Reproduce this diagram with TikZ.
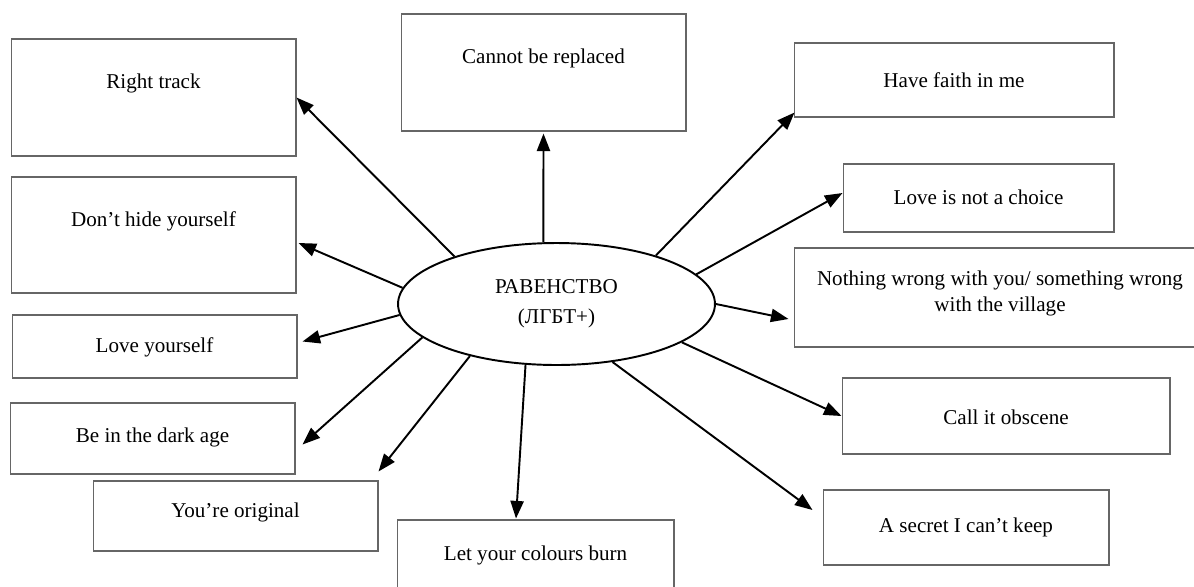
\documentclass[tikz,border=0pt]{standalone}
\usepackage{fontspec}
\setmainfont{Liberation Serif}
\usetikzlibrary{arrows.meta,calc,shapes.geometric}
\definecolor{boxgray}{HTML}{666666}

\begin{document}
\begin{tikzpicture}[x=0.02cm,y=-0.02cm,>={Triangle[length=10pt,width=7.5pt]},
  idea/.style={draw=boxgray,line width=0.6pt,inner sep=0pt},
  lab/.style={font=\fontsize{12}{14.5}\selectfont,align=center,inner sep=1pt},
  hub/.style={ellipse,draw=black,line width=1.1pt,minimum width=6.34cm,minimum height=2.44cm,
              inner sep=0pt,align=center,font=\fontsize{12}{17}\selectfont},
  spoke/.style={->,line width=1.1pt}]

\clip (0,0) rectangle (1194,586);

% ===== centre =====
\node[hub] (eq) at (556.5,304) {РАВЕНСТВО\\(ЛГБТ+)};

% ===== left side =====
\node[idea,minimum width=5.7cm,minimum height=2.34cm] (rt) at (153.5,97.5) {};
\node[lab] (rt-t) at ($(rt.north)+(0,45)$) {Right track};
\node[idea,minimum width=5.7cm,minimum height=2.32cm] (dh) at (153.5,235) {};
\node[lab] (dh-t) at ($(dh.north)+(0,45)$) {Don’t hide yourself};
\node[idea,minimum width=5.7cm,minimum height=1.26cm] (ly) at (154.5,346.5) {};
\node[lab] (ly-t) at ($(ly.north)+(0,33)$) {Love yourself};
\node[idea,minimum width=5.7cm,minimum height=1.42cm] (da) at (152.5,438.5) {};
\node[lab] (da-t) at ($(da.north)+(0,35)$) {Be in the dark age};
\node[idea,minimum width=5.7cm,minimum height=1.40cm] (yo) at (235.5,516) {};
\node[lab] (yo-t) at ($(yo.north)+(0,32)$) {You’re original};

% ===== top and bottom =====
\node[idea,minimum width=5.7cm,minimum height=2.34cm] (cr) at (543.5,72.5) {};
\node[lab] (cr-t) at ($(cr.north)+(0,45)$) {Cannot be replaced};
\node[idea,minimum width=5.54cm,minimum height=2.0cm] (lc) at (535.5,570) {};
\node[lab] (lc-t) at ($(lc.north)+(0,36)$) {Let your colours burn};

% ===== right side =====
\node[idea,minimum width=6.4cm,minimum height=1.48cm] (hf) at (954,80) {};
\node[lab] (hf-t) at ($(hf.north)+(0,38)$) {Have faith in me};
\node[idea,minimum width=5.42cm,minimum height=1.36cm] (lnc) at (978.5,198) {};
\node[lab] (lnc-t) at ($(lnc.north)+(0,34)$) {Love is not a choice};
\node[idea,minimum width=8.24cm,minimum height=1.98cm] (nw) at (1000,297.5) {};
\node[lab] (nw-t) at ($(nw.north)+(0,46)$) {Nothing wrong with you/ something wrong\\with the village};
\node[idea,minimum width=6.56cm,minimum height=1.52cm] (co) at (1006,416) {};
\node[lab] (co-t) at ($(co.north)+(0,40)$) {Call it obscene};
\node[idea,minimum width=5.72cm,minimum height=1.50cm] (sk) at (966,527.5) {};
\node[lab] (sk-t) at ($(sk.north)+(0,38)$) {A secret I can’t keep};

% ===== arrows =====
\draw[spoke] (eq.155.4) -- (rt.east);
\draw[spoke] (eq.174) -- ($(dh.east)+(2,8)$);
\draw[spoke] (eq.184) -- ($(ly.east)+(5,-5)$);
\draw[spoke] (eq.194) -- ($(da.east)+(7,6)$);
\draw[spoke] (eq.211.8) -- ($(yo.north east)+(0,-9)$);
\draw[spoke] (eq.243.4) -- ($(lc.north)+(-19.5,-1)$);
\draw[spoke] (eq.102.5) -- ($(cr.south)+(0,2)$);
\draw[spoke] (eq.26.9) -- ($(hf.south west)+(1,-5)$);
\draw[spoke] (eq.12.6) -- ($(lnc.west)+(0,-5)$);
\draw[spoke] (eq.0) -- ($(nw.west)+(-5,21.5)$);
\draw[spoke] (eq.-17.3) -- (co.west);
\draw[spoke] (eq.-46.3) -- ($(sk.west)+(-10,-17.5)$);

\end{tikzpicture}
\end{document}
